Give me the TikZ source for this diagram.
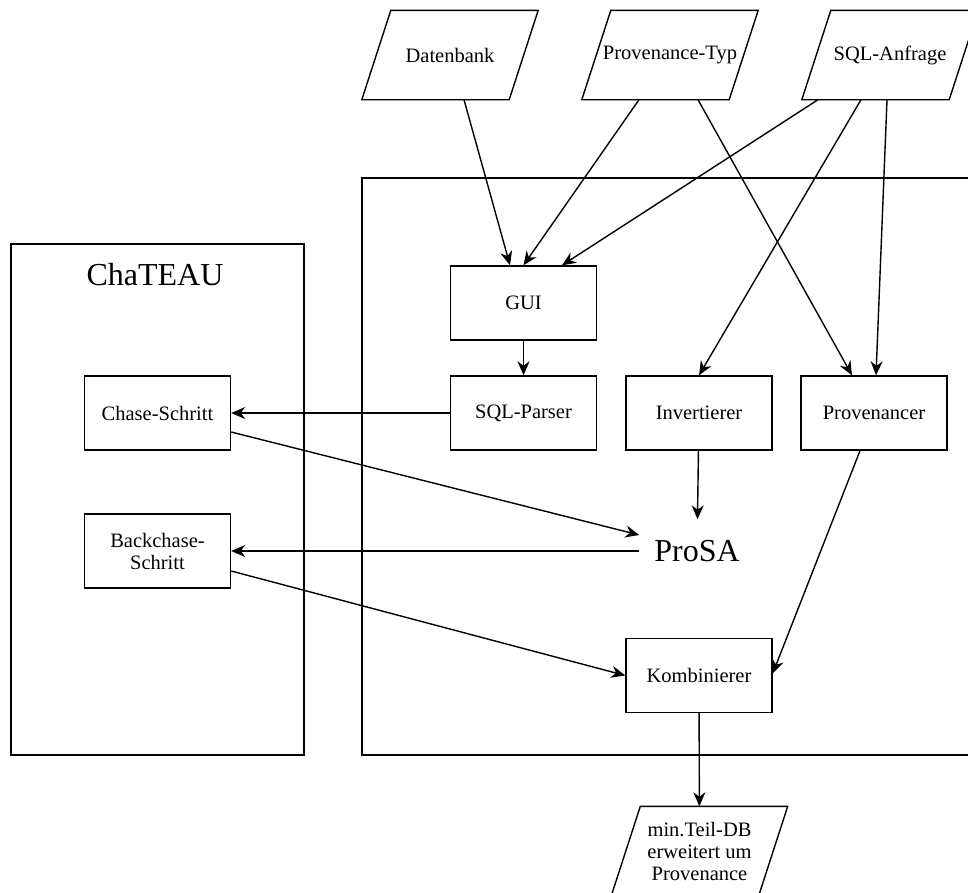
\documentclass[tikz,border=0pt]{standalone}
\usepackage{fontspec}
\setmainfont{Liberation Serif}
\usetikzlibrary{arrows.meta}

\newcommand{\ioshape}[1]{\draw ([xshift=14.5pt]#1.north west) -- ([xshift=14.5pt]#1.north east) -- ([xshift=-14.5pt]#1.south east) -- ([xshift=-14.5pt]#1.south west) -- cycle;}

\begin{document}
\begin{tikzpicture}[x=1pt,y=-1pt,line width=1.4pt,
    box/.style={draw,minimum width=146pt,minimum height=74pt,inner sep=0pt,align=center,font=\fontsize{20.5}{22}\selectfont},
    io/.style={minimum width=146pt,minimum height=88pt,inner sep=0pt,align=center,font=\fontsize{20.5}{22}\selectfont},
    big/.style={font=\fontsize{32}{36}\selectfont},
    arr/.style={-{Stealth[length=14pt,width=12pt,inset=4.5pt]}}]
    \clip (0,0) rectangle (968,892);
    \draw (11,244) rectangle (304,755);
    \draw (362,178) rectangle (1000,755);
    \node[big] (chateau) at (155,275) {ChaTEAU};

    \node[io] (db) at (450,55) {Datenbank};
    \node[io] (ptyp) at (670,55) {Provenance-Typ};
    \node[io] (sql) at (890,55) {SQL-Anfrage};
    \ioshape{db}
    \ioshape{ptyp}
    \ioshape{sql}

    \node[box] (gui) at (523.5,303) {GUI};
    \node[box] (parser) at (523.5,413) {SQL-Parser};
    \node[box] (inv) at (699,413) {Invertierer};
    \node[box] (provr) at (874,413) {Provenancer};
    \node[box] (chase) at (157.5,413) {Chase-Schritt};
    \node[box] (back) at (157.5,551) {Backchase-\\Schritt};
    \node[big,minimum width=114pt,minimum height=62pt,inner sep=0pt] (prosa) at (697,551) {ProSA};
    \node[box] (komb) at (699,675.5) {Kombinierer};
    \node[io] (out) at (699.5,851) {min.Teil-DB\\erweitert um\\Provenance};
    \ioshape{out}

    \draw[arr] ([xshift=14pt]db.south) -- ([xshift=-13.5pt]gui.north);
    \draw[arr] ([xshift=-31pt]ptyp.south) -- (gui.north);
    \draw[arr] ([xshift=-72pt]sql.south) -- ([xshift=38.5pt]gui.north);
    \draw[arr] ([xshift=-29pt]sql.south) -- (inv.north);
    \draw[arr] ([xshift=-3pt]sql.south) -- ([xshift=2pt]provr.north);
    \draw[arr] ([xshift=28pt]ptyp.south) -- ([xshift=-22pt]provr.north);
    \draw[arr] (gui) -- (parser);
    \draw[arr] (parser) -- (chase);
    \draw[arr] ([yshift=-19pt]chase.east) -- ([yshift=16pt]prosa.west);
    \draw[arr] (inv) -- (prosa);
    \draw[arr] (prosa) -- (back);
    \draw[arr] ([yshift=-20pt]back.east) -- (komb.west);
    \draw[arr] ([xshift=-14pt]provr.south) -- ([yshift=2pt]komb.east);
    \draw[arr] (komb) -- (out);
\end{tikzpicture}
\end{document}
